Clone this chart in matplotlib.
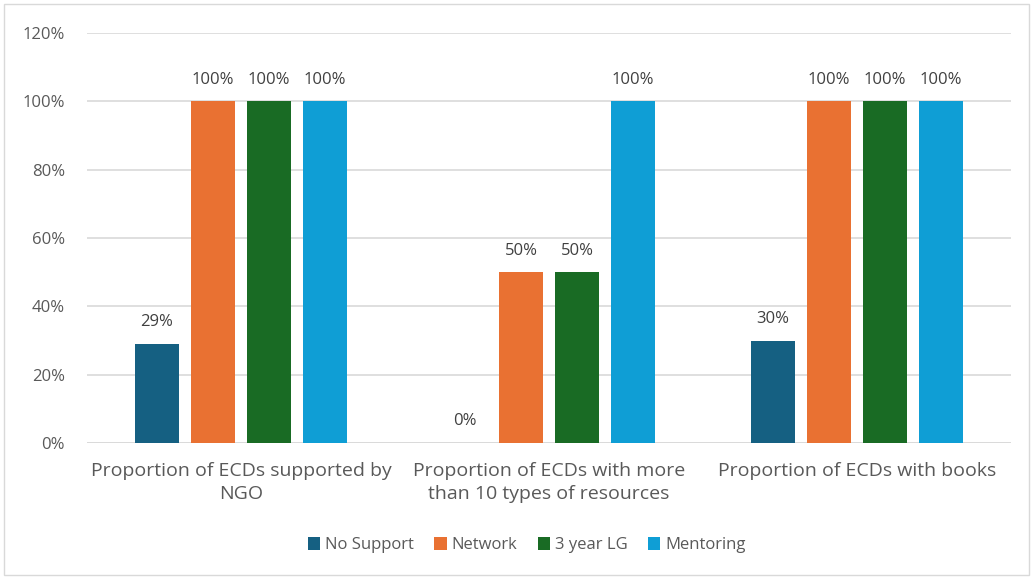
import matplotlib.pyplot as plt
import numpy as np
from matplotlib.patches import Rectangle

categories = ["Proportion of ECDs supported by\nNGO",
              "Proportion of ECDs with more\nthan 10 types of resources",
              "Proportion of ECDs with books"]
series = ["No Support", "Network", "3 year LG", "Mentoring"]
no_support = [29, 0, 30]
network = [100, 50, 100]
lg3 = [100, 50, 100]
mentoring = [100, 100, 100]
colors = ["#156082", "#E97132", "#196B24", "#0F9ED5"]

plt.rcParams['font.family'] = ['Open Sans', 'DejaVu Sans']
txt = "#595959"

fig = plt.figure(figsize=(10.33, 5.77), dpi=100)
ax = fig.add_axes([0.0842, 0.2322, 0.8945, 0.7106])

x = np.arange(len(categories))
step = 0.182
width = 0.143
for i, (name, vals) in enumerate(zip(series, [no_support, network, lg3, mentoring])):
    pos = x + (i - 1.5) * step
    ax.bar(pos, vals, width, color=colors[i], label=name, zorder=3)
    for p, v in zip(pos, vals):
        ax.text(p, v + 4, f"{v}%", ha='center', va='bottom', fontsize=12, color="#404040")

ax.set_xlim(-0.5, 2.5)
ax.set_ylim(0, 120)
ax.set_yticks(range(0, 121, 20))
ax.set_yticklabels([f"{t}%" for t in range(0, 121, 20)], fontsize=12, color=txt)
ax.set_xticks(x)
ax.set_xticklabels(categories, fontsize=14, color=txt, linespacing=1.35)
ax.tick_params(axis='both', length=0)
ax.tick_params(axis='y', pad=16)
ax.tick_params(axis='x', pad=14)
ax.grid(axis='y', color="#D9D9D9", linewidth=1.2, zorder=0)
for s in ax.spines.values():
    s.set_visible(False)
ax.axhline(0, color="#D9D9D9", linewidth=1.2, zorder=1)

leg = fig.legend(loc='center', bbox_to_anchor=(0.51, 0.055), ncol=4, frameon=False,
                 fontsize=12, handlelength=0.75, handleheight=0.75, handletextpad=0.3,
                 columnspacing=1.2)
for t in leg.get_texts():
    t.set_color(txt)

fig.patches.append(Rectangle((0.004, 0.003), 0.992, 0.99, transform=fig.transFigure,
                             fill=False, edgecolor="#D9D9D9", linewidth=1))

fig.savefig("out.png", dpi=100)
